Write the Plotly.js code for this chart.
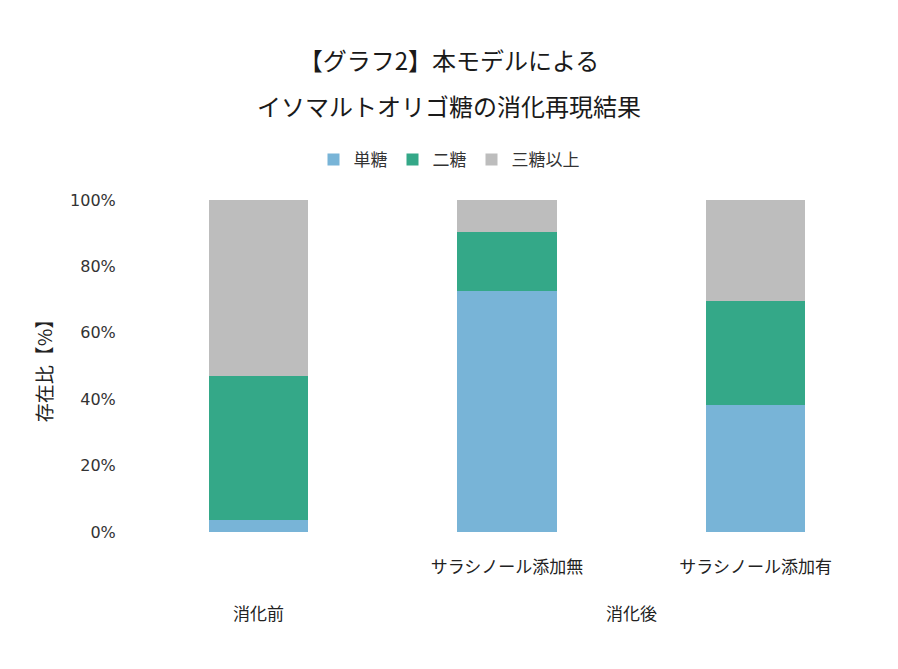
<!DOCTYPE html>
<html>
<head>
<meta charset="utf-8">
<script src="https://cdn.plot.ly/plotly-3.0.1.min.js"></script>
<style>html,body{margin:0;padding:0;background:#fff;}#chart{width:898px;height:669px;}</style>
</head>
<body>
<div id="chart"></div>
<script>
// Categories
const outerLabels = ["消化前", "消化後", "消化後"];
const innerLabels = [" ", "サラシノール添加無", "サラシノール添加有"];
// Series values (fraction of total)
const monosaccharide = [0.035, 0.726, 0.382];   // 単糖
const disaccharide   = [0.434, 0.177, 0.313];   // 二糖
const trisaccharide  = [0.531, 0.097, 0.305];   // 三糖以上
const seriesNames = ["単糖", "二糖", "三糖以上"];
const seriesColors = ["#78B4D7", "#34A888", "#BDBDBD"];
const yTickVals = [0, 0.2, 0.4, 0.6, 0.8, 1.0];
const yTickText = ["0%", "20%", "40%", "60%", "80%", "100%"];
const titleLine1 = "【グラフ2】本モデルによる";
const titleLine2 = "イソマルトオリゴ糖の消化再現結果";

const jp = '"Noto Sans CJK JP", "Noto Sans", sans-serif';
const W = 898, H = 669;
const M = {l: 134, r: 18, t: 200, b: 137};
const plotW = W - M.l - M.r, plotH = H - M.t - M.b;

const values = [monosaccharide, disaccharide, trisaccharide];
const traces = values.map((v, i) => ({
  type: 'bar',
  name: seriesNames[i],
  x: innerLabels,
  y: v,
  marker: {color: seriesColors[i], line: {width: 0}},
  hoverinfo: 'skip'
}));

// group labels centred under their categories (category index mean)
const groups = [];
outerLabels.forEach((g, i) => {
  let grp = groups.find(o => o.name === g);
  if (!grp) { grp = {name: g, idx: []}; groups.push(grp); }
  grp.idx.push(i);
});
const annotations = groups.map(g => ({
  text: g.name,
  x: g.idx.reduce((a, b) => a + b, 0) / g.idx.length,
  xref: 'x',
  y: -(612 - (M.t + plotH)) / plotH, yref: 'paper', yanchor: 'middle',
  showarrow: false,
  font: {family: jp, size: 17, color: '#222'}
}));
// second title line
annotations.push({
  text: titleLine2,
  x: (W / 2 - M.l) / plotW, xref: 'paper', xanchor: 'center',
  y: (H - 105 - M.b) / plotH, yref: 'paper', yanchor: 'middle',
  showarrow: false,
  font: {family: jp, size: 24, color: '#1a1a1a'}
});

const layout = {
  width: W, height: H,
  margin: M,
  paper_bgcolor: '#fff', plot_bgcolor: '#fff',
  barmode: 'stack',
  bargap: 0.6,
  title: {
    text: titleLine1,
    font: {family: jp, size: 24, color: '#1a1a1a'},
    x: 0.5, xref: 'container', xanchor: 'center',
    y: 1 - 62 / H, yref: 'container', yanchor: 'middle'
  },
  showlegend: true,
  legend: {
    orientation: 'h', traceorder: 'normal',
    x: 0.5, xref: 'container', xanchor: 'center',
    y: 1 - 160 / H, yref: 'container', yanchor: 'middle',
    font: {family: jp, size: 17, color: '#333'},
    itemwidth: 30
  },
  annotations: annotations,
  xaxis: {
    type: 'category',
    showline: false, showgrid: false, zeroline: false,
    tickfont: {family: jp, size: 17, color: '#222'},
    ticks: 'outside', ticklen: 20, tickcolor: 'rgba(0,0,0,0)'
  },
  yaxis: {
    range: [0, 1],
    tickvals: yTickVals, ticktext: yTickText,
    showgrid: false, showline: false, zeroline: false,
    ticks: 'outside', ticklen: 14, tickcolor: 'rgba(0,0,0,0)',
    tickfont: {family: '"DejaVu Sans", sans-serif', size: 16, color: '#333'},
    title: {text: '存在比【%】', font: {family: jp, size: 19, color: '#222'}, standoff: 12}
  }
};

Plotly.newPlot('chart', traces, layout, {displayModeBar: false, staticPlot: true});
</script>
</body>
</html>
